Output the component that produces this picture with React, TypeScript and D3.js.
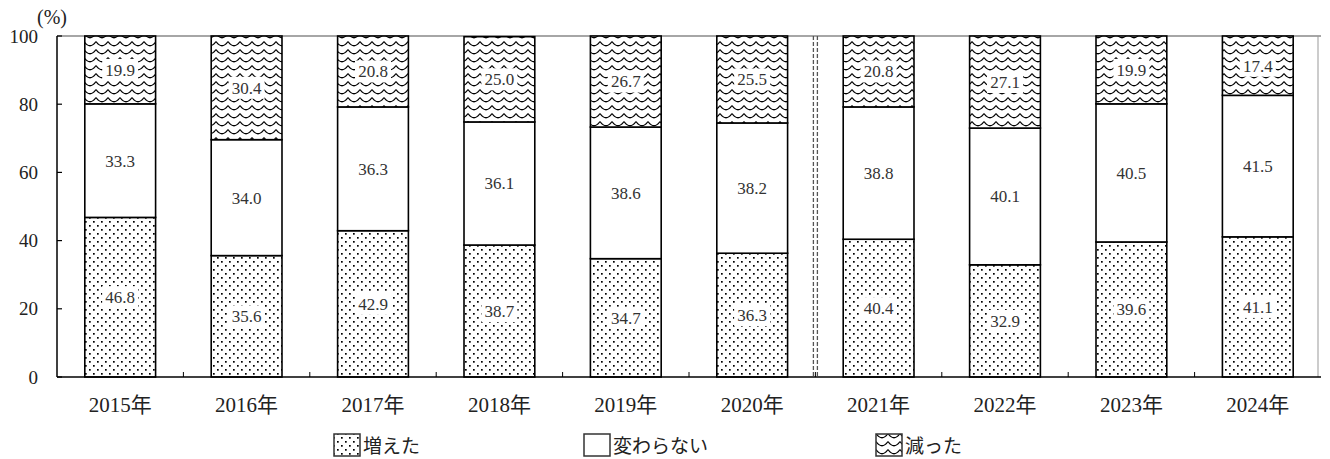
import React from "react";
import * as d3 from "d3";

const years = ["2015年","2016年","2017年","2018年","2019年","2020年","2021年","2022年","2023年","2024年"];
const increased = [46.8, 35.6, 42.9, 38.7, 34.7, 36.3, 40.4, 32.9, 39.6, 41.1];
const unchanged = [33.3, 34.0, 36.3, 36.1, 38.6, 38.2, 38.8, 40.1, 40.5, 41.5];
const decreased = [19.9, 30.4, 20.8, 25.0, 26.7, 25.5, 20.8, 27.1, 19.9, 17.4];
const yTicks = [0, 20, 40, 60, 80, 100];
const seriesNames = ["増えた", "変わらない", "減った"];

const W = 1330, H = 459;
const L = 57, R = 1321, T = 36, B = 377;
const FONT = "Liberation Serif, DejaVu Serif, Noto Sans CJK JP, serif";

export default function App() {
  const x = d3.scaleBand<string>().domain(years).range([L, R]).paddingInner(0.44).paddingOuter(0.22);
  const y = d3.scaleLinear().domain([0, 100]).range([B, T]);
  const fills = ["url(#dots)", "#fff", "url(#waves)"];
  const data = years.map((yr, i) => ({ yr, vals: [increased[i], unchanged[i], decreased[i]] }));
  const step = x.step();
  const divX = L + step * 6;

  return (
    <svg width={W} height={H} fontFamily={FONT} style={{ position: "absolute", left: 0, top: 0, background: "#fff" }}>
      <defs>
        <pattern id="dots" width={8} height={8} patternUnits="userSpaceOnUse">
          <rect width={8} height={8} fill="#fff" />
          <rect x={1} y={1} width={1.7} height={1.7} fill="#000" />
          <rect x={5} y={5} width={1.7} height={1.7} fill="#000" />
        </pattern>
        <pattern id="waves" width={12} height={8} patternUnits="userSpaceOnUse">
          <rect width={12} height={8} fill="#fff" />
          <path d="M0,1.5 Q6,10 12,1.5" fill="none" stroke="#000" strokeWidth={1.3} />
        </pattern>
      </defs>
      {/* top and right frame */}
      <line x1={L} x2={R} y1={T} y2={T} stroke="#888" strokeWidth={1.5} />
      <line x1={R - 3} x2={R - 3} y1={T} y2={B} stroke="#999" strokeWidth={1} />
      {/* divider */}
      {[-2, 2].map((d) => (
        <line key={d} x1={divX + d} x2={divX + d} y1={T} y2={B} stroke="#555" strokeWidth={1.3} strokeDasharray="4,2" />
      ))}
      {/* bars */}
      {data.map((d) => {
        let cum = 0;
        const bx = x(d.yr)!;
        const bw = x.bandwidth();
        return (
          <g key={d.yr}>
            {d.vals.map((v, k) => {
              const y0 = cum;
              const y1 = Math.min(100, cum + v);
              cum += v;
              const top = y(y1), bot = y(y0);
              const cy = (top + bot) / 2;
              const label = v.toFixed(1);
              return (
                <g key={k}>
                  <rect x={bx} y={top} width={bw} height={bot - top} fill={fills[k]} stroke="#000" strokeWidth={1.6} />
                  {k !== 1 && <rect x={bx + bw / 2 - 18} y={cy - 11} width={36} height={22} fill="#fff" />}
                  <text x={bx + bw / 2} y={cy} dy="0.35em" textAnchor="middle" fontSize={17} fill="#333" fontFamily={FONT}>{label}</text>
                </g>
              );
            })}
          </g>
        );
      })}
      {/* y axis */}
      <line x1={L} x2={L} y1={T} y2={B} stroke="#000" strokeWidth={1.5} />
      {yTicks.map((t) => (
        <g key={t}>
          <line x1={L} x2={L + 5} y1={y(t)} y2={y(t)} stroke="#000" strokeWidth={1.2} />
          <text x={38} y={y(t)} dy="0.35em" textAnchor="end" fontSize={19} fill="#222" fontFamily={FONT}>{t}</text>
        </g>
      ))}
      <text x={52} y={17} dy="0.35em" textAnchor="middle" fontSize={20} fill="#222" fontFamily={FONT}>(%)</text>
      {/* x axis */}
      <line x1={L} x2={R} y1={B} y2={B} stroke="#000" strokeWidth={1.5} />
      {d3.range(1, years.length).map((i) => (
        <line key={i} x1={L + step * i} x2={L + step * i} y1={B} y2={B - 5} stroke="#000" strokeWidth={1} />
      ))}
      {years.map((yr) => (
        <text key={yr} x={x(yr)! + x.bandwidth() / 2} y={412} textAnchor="middle" fontSize={21} fill="#222" fontFamily={FONT}>{yr}</text>
      ))}
      {/* legend */}
      {[334, 584, 876].map((lx, k) => (
        <g key={k}>
          <rect x={lx} y={434} width={26} height={22} fill={fills[k]} stroke="#333" strokeWidth={1.5} />
          <text x={lx + 29} y={446} dy="0.35em" fontSize={19} fill="#222" fontFamily={FONT}>{seriesNames[k]}</text>
        </g>
      ))}
    </svg>
  );
}
